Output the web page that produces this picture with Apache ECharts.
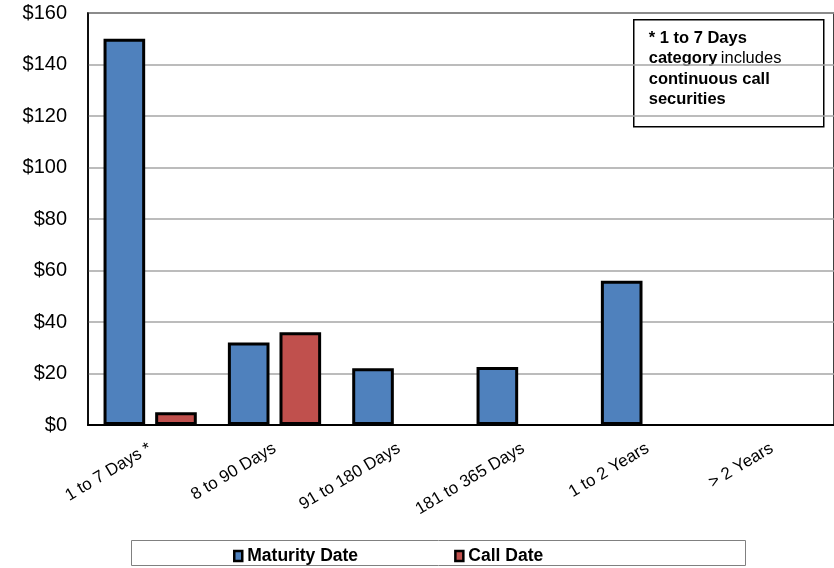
<!DOCTYPE html>
<html>
<head>
<meta charset="utf-8">
<script src="https://cdn.jsdelivr.net/npm/echarts@6/dist/echarts.min.js"></script>
<style>
  html, body { margin: 0; padding: 0; background: #fff; }
  #chart { width: 834px; height: 568px; }
</style>
</head>
<body>
<div id="chart"></div>
<script>
// Term buckets and amounts (in $ millions)
const categories = ['1 to 7 Days *', '8 to 90 Days', '91 to 180 Days', '181 to 365 Days', '1 to 2 Years', '> 2 Years'];
const maturityDate = [150, 32, 22, 22.5, 56, 0];
const callDate = [5, 36, 0, 0, 0, 0];
const yTicks = [0, 20, 40, 60, 80, 100, 120, 140, 160];

const FONT = '"Liberation Sans", Arial, sans-serif';
const chart = echarts.init(document.getElementById('chart'), null, { renderer: 'canvas' });

const barStyle = (color) => ({ color: color, borderColor: '#000', borderWidth: 3 });
// empty buckets get no bar at all
const asBars = (arr) => arr.map(v => (v === 0 ? '-' : v));

chart.setOption({
  animation: false,
  backgroundColor: '#fff',
  grid: {
    left: 88, top: 13, width: 753, height: 412,
    show: true, borderColor: '#000', borderWidth: 1.5, backgroundColor: 'transparent'
  },
  xAxis: {
    type: 'category',
    data: categories,
    axisLine: { lineStyle: { color: '#000', width: 2 } },
    axisTick: { show: false },
    axisLabel: { rotate: 31, margin: 22, fontFamily: FONT, fontSize: 17, color: '#000', interval: 0 }
  },
  yAxis: {
    type: 'value',
    min: yTicks[0], max: yTicks[yTicks.length - 1], interval: 20,
    axisLine: { show: true, lineStyle: { color: '#000', width: 1.5 } },
    axisTick: { show: false },
    splitLine: { lineStyle: { color: '#a6a6a6', width: 1.5 } },
    axisLabel: { margin: 21, fontFamily: FONT, fontSize: 20, color: '#000', formatter: v => '$' + v }
  },
  legend: {
    left: 228, top: 542,
    itemWidth: 8, itemHeight: 10, itemGap: 96,
    textStyle: { fontFamily: FONT, fontSize: 17.5, fontWeight: 'bold', color: '#000' },
    data: [
      { name: 'Maturity Date', icon: 'rect', itemStyle: { borderColor: '#000', borderWidth: 2.5 } },
      { name: 'Call Date', icon: 'rect', itemStyle: { borderColor: '#000', borderWidth: 2.5 } }
    ]
  },
  graphic: [
    {
      type: 'rect', left: 131, top: 540, z: -1,
      shape: { width: 614, height: 25 },
      style: { fill: '#fff', stroke: '#808080', lineWidth: 1 }
    },
    {
      type: 'group', left: 633, top: 19, z: 10,
      children: [
        { type: 'rect', shape: { width: 190, height: 107 }, style: { fill: '#fff', stroke: '#000', lineWidth: 1.5 } },
        {
          type: 'text', left: 15, top: 10,
          style: {
            text: '{b|* 1 to 7 Days}\n{b|category} {r|includes}\n{b|continuous call}\n{b|securities}',
            fill: '#000',
            rich: {
              b: { fontFamily: FONT, fontSize: 16.5, fontWeight: 'bold', lineHeight: 20.5, fill: '#000' },
              r: { fontFamily: FONT, fontSize: 16.5, fontWeight: 'normal', lineHeight: 20.5, fill: '#000' }
            }
          }
        }
      ]
    }
  ],
  series: [
    {
      name: 'Maturity Date', type: 'bar', data: asBars(maturityDate),
      barGap: '24%', barCategoryGap: '25%',
      itemStyle: barStyle('#4f81bd')
    },
    {
      name: 'Call Date', type: 'bar', data: asBars(callDate),
      itemStyle: barStyle('#c0504d')
    }
  ]
});
</script>
</body>
</html>
